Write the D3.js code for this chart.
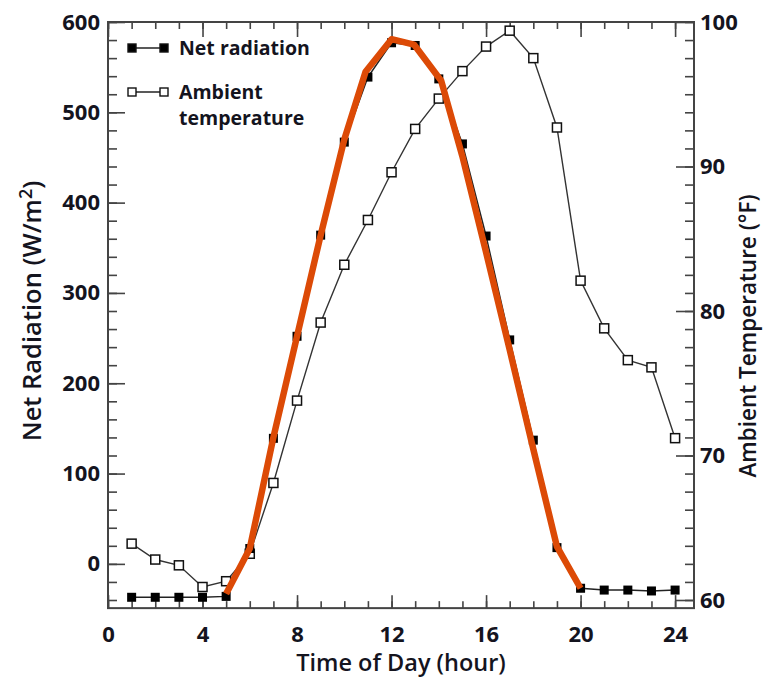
<!DOCTYPE html>
<html>
<head>
<meta charset="utf-8">
<script src="https://cdn.jsdelivr.net/npm/d3@7"></script>
<style>
  body { margin: 0; background: #fff; }
  text { font-family: "Open Sans", sans-serif; fill: #14141e; }
  .tick text { font-size: 22px; font-weight: 700; }
  .tick line { stroke: #444; stroke-width: 1.6; }
</style>
</head>
<body>
<div id="chart"></div>
<script>
const w = 771, h = 680

// data
const hours = [1, 2, 3, 4, 5, 6, 7, 8, 9, 10, 11, 12, 13, 14, 15, 16, 17, 18, 19, 20, 21, 22, 23, 24]
const netRadiation = [-37, -37, -37, -37, -36, 17, 139, 252, 364, 467, 539, 577, 574, 537, 465, 363, 248, 137, 18, -27, -29, -29, -30, -29]
const ambientTemp = [63.9, 62.8, 62.4, 60.9, 61.3, 63.2, 68.1, 73.8, 79.2, 83.2, 86.3, 89.6, 92.6, 94.7, 96.6, 98.3, 99.4, 97.5, 92.7, 82.1, 78.8, 76.6, 76.1, 71.2]
// orange highlight trace drawn over the net radiation curve
const traceHours = [5, 6, 7, 8, 9, 10, 10.9, 12, 12.95, 14.1, 15, 16, 17, 18, 19, 20]
const traceValues = [-33, 17, 140, 252, 364, 470, 545, 581, 575, 535, 451, 345, 237, 127, 19, -27]

const xTicks = [0, 4, 8, 12, 16, 20, 24]
const leftTicks = [0, 100, 200, 300, 400, 500, 600]
const rightTicks = [60, 70, 80, 90, 100]

//scales
const x = d3.scaleLinear().domain([0, 24.8]).range([108, 694])
const yL = d3.scaleLinear().domain([-40, 600]).range([600, 22])
const yR = d3.scaleLinear().domain([60, 100]).range([600, 22])
const yTop = 22, yBottom = yL(-49)

const svg = d3.select("#chart").append("svg")
    .attr("width", w)
    .attr("height", h)

// minor / major tick helpers
function ticks(axis, pos, vals, size, labels) {
    const g = svg.append("g")
        .attr("transform", pos)
        .call(axis.tickValues(vals).tickSize(-size)
            .tickFormat(labels ? d3.format("d") : ""))
    g.select(".domain").remove()
    return g
}

const minorX = d3.range(0, 25)
const minorL = d3.range(-40, 601, 20)
const minorR = minorL.map(v => 60 + (v + 40) / 16)

ticks(d3.axisBottom(x), `translate(0,${yBottom})`, minorX, 7, false)
ticks(d3.axisBottom(x).tickPadding(18), `translate(0,${yBottom})`, xTicks, 13, true)
ticks(d3.axisTop(x), `translate(0,${yTop})`, minorX, 7, false)
ticks(d3.axisTop(x), `translate(0,${yTop})`, xTicks, 15, false)
ticks(d3.axisLeft(yL), `translate(108,0)`, minorL, 9, false)
ticks(d3.axisLeft(yL).tickPadding(8), `translate(108,0)`, leftTicks, 17, true)
ticks(d3.axisRight(yR), `translate(694,0)`, minorR, 9, false)
ticks(d3.axisRight(yR).tickPadding(6), `translate(694,0)`, rightTicks, 18, true)

// frame
svg.append("rect")
    .attr("x", 108).attr("y", yTop)
    .attr("width", 694 - 108).attr("height", yBottom - yTop)
    .attr("fill", "none")
    .attr("stroke", "#444")
    .attr("stroke-width", 2)

// ambient temperature
svg.append("path")
    .datum(hours)
    .attr("fill", "none")
    .attr("stroke", "#333")
    .attr("stroke-width", 1.4)
    .attr("d", d3.line().x(d => x(d)).y((d, i) => yR(ambientTemp[i])))

svg.selectAll("rect.temp")
    .data(hours)
    .enter()
    .append("rect")
    .attr("class", "temp")
    .attr("x", d => x(d) - 4.5)
    .attr("y", (d, i) => yR(ambientTemp[i]) - 4.5)
    .attr("width", 9).attr("height", 9)
    .attr("fill", "white")
    .attr("stroke", "#111")
    .attr("stroke-width", 1.5)

// net radiation
svg.append("path")
    .datum(hours)
    .attr("fill", "none")
    .attr("stroke", "#222")
    .attr("stroke-width", 1.5)
    .attr("d", d3.line().x(d => x(d)).y((d, i) => yL(netRadiation[i])))

svg.selectAll("rect.net")
    .data(hours)
    .enter()
    .append("rect")
    .attr("class", "net")
    .attr("x", d => x(d) - 4.5)
    .attr("y", (d, i) => yL(netRadiation[i]) - 4.5)
    .attr("width", 9).attr("height", 9)
    .attr("fill", "#000")

// orange trace
svg.append("path")
    .datum(traceHours)
    .attr("fill", "none")
    .attr("stroke", "#dc4a06")
    .attr("stroke-width", 6.5)
    .attr("stroke-linejoin", "round")
    .attr("d", d3.line().x(d => x(d)).y((d, i) => yL(traceValues[i])))

// legend
const legend = [
    { y: 48, fill: "#000", lines: ["Net radiation"] },
    { y: 92, fill: "#fff", lines: ["Ambient", "temperature"] }
]
legend.forEach(l => {
    svg.append("line")
        .attr("x1", 132).attr("x2", 164)
        .attr("y1", l.y).attr("y2", l.y)
        .attr("stroke", "#222").attr("stroke-width", 1.5)
    ;[132, 164].forEach(cx => {
        svg.append("rect")
            .attr("x", cx - 4).attr("y", l.y - 4)
            .attr("width", 8).attr("height", 8)
            .attr("fill", l.fill)
            .attr("stroke", "#111").attr("stroke-width", 1.4)
    })
    l.lines.forEach((t, i) => {
        svg.append("text")
            .attr("x", 179).attr("y", l.y + 7 + i * 26)
            .attr("font-size", 19.5).attr("font-weight", 700)
            .text(t)
    })
})

// axis titles
svg.append("text")
    .attr("x", 401).attr("y", 671)
    .attr("text-anchor", "middle")
    .attr("font-size", 23.5).attr("font-weight", 600)
    .text("Time of Day (hour)")

const lt = svg.append("text")
    .attr("transform", "translate(41,311) rotate(-90)")
    .attr("text-anchor", "middle")
    .attr("font-size", 25.5).attr("font-weight", 600)
lt.append("tspan").text("Net Radiation (W/m")
lt.append("tspan").attr("font-size", 18).attr("dy", -9).text("2")
lt.append("tspan").attr("dy", 9).text(")")

svg.append("text")
    .attr("transform", "translate(756,336) rotate(-90)")
    .attr("text-anchor", "middle")
    .attr("font-size", 22.5).attr("font-weight", 600)
    .text("Ambient Temperature (°F)")
</script>
</body>
</html>
